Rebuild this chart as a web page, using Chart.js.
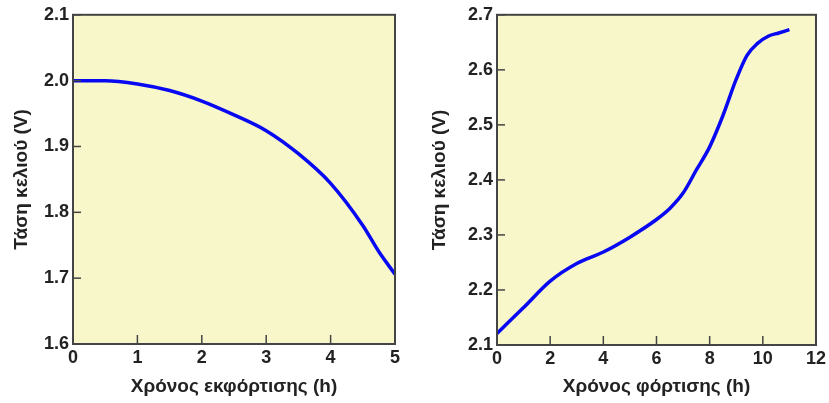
<!DOCTYPE html>
<html>
<head>
<meta charset="utf-8">
<script src="https://cdn.jsdelivr.net/npm/chart.js@4"></script>
<style>
  html, body { margin: 0; padding: 0; background: #fff; }
  .box { position: absolute; top: 0; height: 403px; }
  #left-box { left: 0; width: 415px; }
  #right-box { left: 415px; width: 414px; }
</style>
</head>
<body>
<div class="box" id="left-box"><canvas id="discharge"></canvas></div>
<div class="box" id="right-box"><canvas id="charge"></canvas></div>
<script>
// discharge curve (hours, volts)
const dischargeHours = [0, 0.5, 1, 1.5, 2, 2.5, 3, 3.5, 4, 4.5, 4.75, 5];
const dischargeVolts = [2.0, 2.0, 1.995, 1.985, 1.969, 1.948, 1.924, 1.889, 1.844, 1.78, 1.74, 1.706];

// charge curve (hours, volts)
const chargeHours = [0, 1, 2, 3, 4, 5, 6, 6.5, 7, 7.5, 8, 8.5, 9, 9.4, 9.8, 10.2, 10.6, 11];
const chargeVolts = [2.121, 2.168, 2.216, 2.248, 2.269, 2.296, 2.328, 2.348, 2.376, 2.418, 2.46, 2.517, 2.583, 2.626, 2.648, 2.661, 2.667, 2.673];

const yTitle = 'Τάση κελιού (V)';
const dischargeTitle = 'Χρόνος εκφόρτισης (h)';
const chargeTitle = 'Χρόνος φόρτισης (h)';

const textColor = '#222';
const frameColor = '#444';
const font = 'Arial, "Liberation Sans", sans-serif';

// yellow plot background, frame and inward tick marks
const framePlugin = {
  id: 'frame',
  beforeDatasetsDraw(chart) {
    const a = chart.chartArea;
    const ctx = chart.ctx;
    ctx.save();
    ctx.fillStyle = '#f8f7c9';
    ctx.fillRect(a.left, a.top, a.right - a.left, a.bottom - a.top);
    ctx.restore();
  },
  afterDatasetsDraw(chart) {
    const a = chart.chartArea;
    const ctx = chart.ctx;
    ctx.save();
    ctx.strokeStyle = frameColor;
    ctx.lineWidth = 1.5;
    chart.scales.x.ticks.forEach(t => {
      const px = chart.scales.x.getPixelForValue(t.value);
      ctx.beginPath();
      ctx.moveTo(px, a.bottom);
      ctx.lineTo(px, a.bottom - 9);
      ctx.stroke();
    });
    chart.scales.y.ticks.forEach(t => {
      const py = chart.scales.y.getPixelForValue(t.value);
      ctx.beginPath();
      ctx.moveTo(a.left, py);
      ctx.lineTo(a.left + 8, py);
      ctx.stroke();
    });
    ctx.lineWidth = 2;
    ctx.strokeRect(a.left, a.top, a.right - a.left, a.bottom - a.top);
    ctx.restore();
  }
};

function makeChart(canvasId, hours, volts, opts) {
  const points = hours.map((h, i) => ({ x: h, y: volts[i] }));
  return new Chart(document.getElementById(canvasId), {
    type: 'line',
    data: {
      datasets: [{
        data: points,
        borderColor: '#0808f2',
        borderWidth: 3.5,
        pointRadius: 0,
        cubicInterpolationMode: 'monotone',
        fill: false,
      }],
    },
    options: {
      responsive: true,
      maintainAspectRatio: false,
      animation: false,
      layout: { padding: { top: 8, right: opts.padRight, left: 0, bottom: 0 } },
      plugins: { legend: { display: false }, tooltip: { enabled: false } },
      scales: {
        x: {
          type: 'linear',
          min: opts.xMin,
          max: opts.xMax,
          afterFit: s => { s.height = opts.xHeight; },
          grid: { display: false, drawTicks: false },
          border: { display: false },
          ticks: {
            stepSize: opts.xStep,
            padding: 3,
            color: textColor,
            font: { family: font, size: 18, weight: 'bold' },
            maxRotation: 0,
          },
          title: {
            display: true,
            text: opts.xTitle,
            color: textColor,
            font: { family: font, size: 19, weight: 'bold' },
            padding: { top: 0, bottom: 5 },
          },
        },
        y: {
          min: opts.yMin,
          max: opts.yMax,
          afterFit: s => { s.width = opts.yWidth; },
          grid: { display: false, drawTicks: false },
          border: { display: false },
          ticks: {
            stepSize: 0.1,
            padding: 4,
            color: textColor,
            font: { family: font, size: 18, weight: 'bold' },
            callback: v => v.toFixed(1),
          },
          title: {
            display: true,
            text: yTitle,
            color: textColor,
            font: { family: font, size: 19, weight: 'bold' },
            padding: { top: opts.yTitlePad, bottom: 0 },
          },
        },
      },
    },
    plugins: [framePlugin],
  });
}

makeChart('discharge', dischargeHours, dischargeVolts, {
  xMin: 0, xMax: 5, xStep: 1, yMin: 1.6, yMax: 2.1,
  xTitle: dischargeTitle, padRight: 20, xHeight: 59, yWidth: 73, yTitlePad: 10,
});

makeChart('charge', chargeHours, chargeVolts, {
  xMin: 0, xMax: 12, xStep: 2, yMin: 2.1, yMax: 2.7,
  xTitle: chargeTitle, padRight: 13, xHeight: 58, yWidth: 82, yTitlePad: 13,
});
</script>
</body>
</html>
